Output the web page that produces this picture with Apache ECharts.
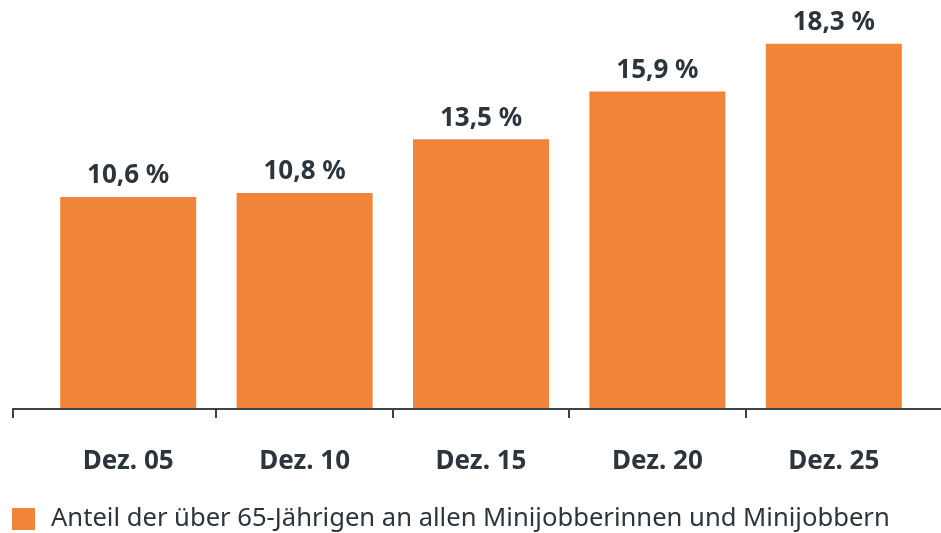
<!DOCTYPE html>
<html>
<head>
<meta charset="utf-8">
<script src="https://cdn.jsdelivr.net/npm/echarts@6/dist/echarts.min.js"></script>
<style>
html,body{margin:0;padding:0;background:#fff;}
#c{width:941px;height:533px;}
</style>
</head>
<body>
<div id="c"></div>
<script>
const categories = ['Dez. 05', 'Dez. 10', 'Dez. 15', 'Dez. 20', 'Dez. 25'];
const values = [10.6, 10.8, 13.5, 15.9, 18.3];
const seriesName = 'Anteil der über 65-Jährigen an allen Minijobberinnen und Minijobbern';

const ORANGE = '#f08438';
const DARK = '#2c353b';
const FONT = '"Noto Sans", sans-serif';

const chart = echarts.init(document.getElementById('c'), null, {renderer: 'canvas'});
chart.setOption({
  animation: false,
  backgroundColor: '#fff',
  grid: {left: 40, right: 19, top: 10, bottom: 125, containLabel: false},
  xAxis: {
    type: 'category',
    data: categories,
    boundaryGap: true,
    axisLine: {show: false},
    axisTick: {show: false},
    axisLabel: {
      margin: 41,
      color: DARK,
      fontFamily: FONT,
      fontWeight: 'bold',
      fontSize: 26
    }
  },
  yAxis: {
    type: 'value',
    min: 0,
    max: 20,
    interval: 5,
    show: false,
    splitLine: {show: false}
  },
  legend: {
    left: 12,
    top: 506,
    padding: 0,
    itemWidth: 23,
    itemHeight: 22,
    icon: 'rect',
    textStyle: {color: DARK, fontFamily: FONT, fontSize: 25.6, padding: [0, 0, 0, 11]},
    data: [seriesName]
  },
  series: [{
    name: seriesName,
    type: 'bar',
    data: values,
    barWidth: 136,
    itemStyle: {color: ORANGE},
    label: {
      show: true,
      position: 'top',
      distance: 8,
      color: DARK,
      fontFamily: FONT,
      fontWeight: 'bold',
      fontSize: 26,
      formatter: p => p.value.toFixed(1).replace('.', ',') + ' %'
    }
  }]
});

// axis line with boundary ticks, positions derived from the axis scale
const y0 = chart.convertToPixel({yAxisIndex: 0}, 0);
const centers = categories.map((c, i) => chart.convertToPixel({xAxisIndex: 0}, i));
const tickXs = [13];
for (let i = 1; i < centers.length; i++) tickXs.push(Math.round((centers[i - 1] + centers[i]) / 2));
const AXC = '#3a4349';
const elements = [{
  type: 'line',
  shape: {x1: 13, y1: y0 + 1, x2: 941, y2: y0 + 1},
  style: {stroke: AXC, lineWidth: 2}
}];
tickXs.forEach(x => elements.push({
  type: 'line',
  shape: {x1: x, y1: y0, x2: x, y2: y0 + 10},
  style: {stroke: AXC, lineWidth: 2}
}));
chart.setOption({graphic: {elements: elements}});
</script>
</body>
</html>
